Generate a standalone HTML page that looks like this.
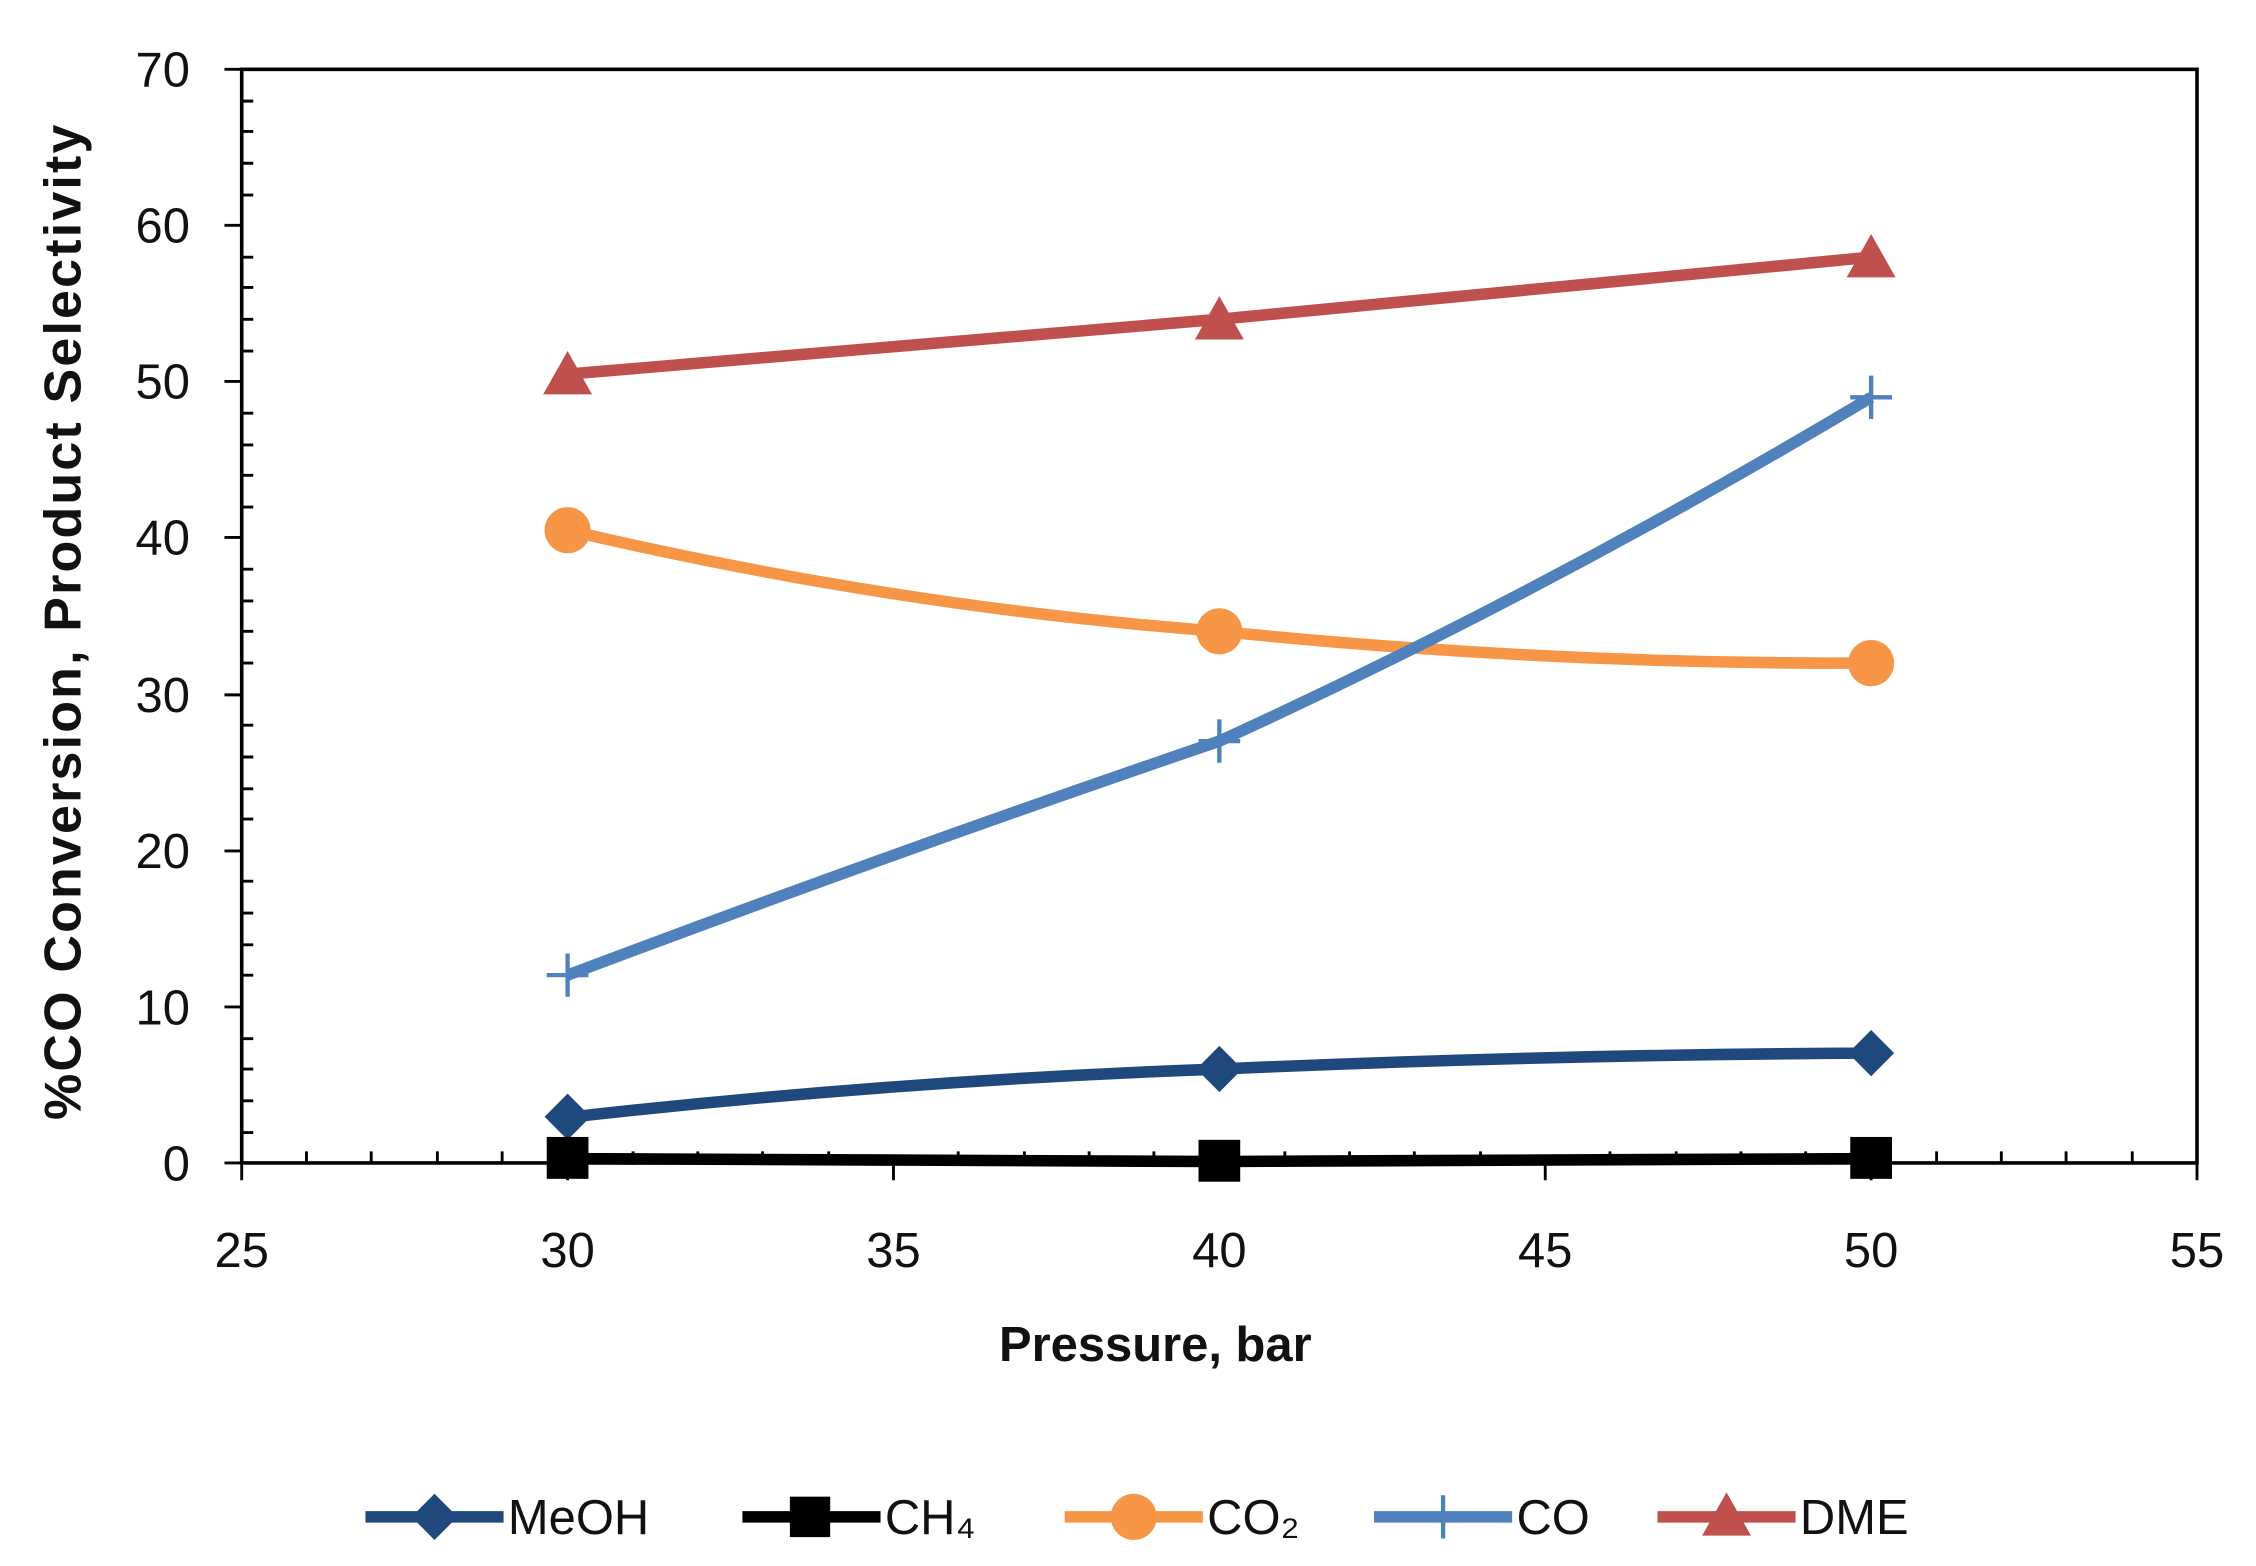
<!DOCTYPE html>
<html><head><style>html,body{margin:0;padding:0;background:#fff}svg{display:block}</style></head>
<body>
<svg width="2256" height="1566" viewBox="0 0 1568 1084" preserveAspectRatio="none" xmlns="http://www.w3.org/2000/svg" font-family="Liberation Sans, sans-serif">
<rect x="0" y="0" width="1568" height="1084" fill="#fff"/>
<rect x="168" y="48" width="1359" height="757" fill="none" stroke="#000" stroke-width="2.5"/>
<g stroke="#000" stroke-width="2">
<path d="M156 48H168M156 156H168M156 264H168M156 372H168M156 481H168M156 589H168M156 697H168M156 805H168"/>
<path d="M168 70H176M168 91H176M168 113H176M168 135H176M168 178H176M168 199H176M168 221H176M168 243H176M168 286H176M168 308H176M168 329H176M168 351H176M168 394H176M168 416H176M168 437H176M168 459H176M168 502H176M168 524H176M168 546H176M168 567H176M168 610H176M168 632H176M168 654H176M168 675H176M168 719H176M168 740H176M168 762H176M168 784H176"/>
<path d="M168 805V817M394.5 805V817M621 805V817M847.5 805V817M1074 805V817M1300.5 805V817M1527 805V817"/>
<path d="M213 797V805M258 797V805M304 797V805M349 797V805M440 797V805M485 797V805M530 797V805M576 797V805M666 797V805M712 797V805M757 797V805M802 797V805M893 797V805M938 797V805M983 797V805M1029 797V805M1119 797V805M1165 797V805M1210 797V805M1255 797V805M1346 797V805M1391 797V805M1436 797V805M1482 797V805"/>
</g>
<g font-size="34" fill="#111" text-anchor="end">
<text x="132" y="60">70</text><text x="132" y="168">60</text><text x="132" y="276">50</text><text x="132" y="384">40</text><text x="132" y="493">30</text><text x="132" y="601">20</text><text x="132" y="709">10</text><text x="132" y="817">0</text>
</g>
<g font-size="34" fill="#111" text-anchor="middle">
<text x="168" y="877">25</text><text x="394.5" y="877">30</text><text x="621" y="877">35</text><text x="847.5" y="877">40</text><text x="1074" y="877">45</text><text x="1300.5" y="877">50</text><text x="1527" y="877">55</text>
</g>
<text x="803" y="942" font-size="34" font-weight="bold" text-anchor="middle" fill="#111">Pressure, bar</text>
<text transform="translate(56,430) rotate(-90)" font-size="36" font-weight="bold" text-anchor="middle" fill="#111" letter-spacing="1.5">%CO Conversion, Product  Selectivity</text>
<path d="M394.5 773.5Q621 748 847.5 740Q1074 730 1300.5 729" fill="none" stroke="#1f497d" stroke-width="8"/>
<path d="M394.5 802L847.5 804L1300.5 802" fill="none" stroke="#000" stroke-width="8"/>
<path d="M394.5 367Q621 420 847.5 437Q1074 460 1300.5 459" fill="none" stroke="#f79646" stroke-width="8"/>
<path d="M394.5 675Q621 590 847.5 513Q1074 410 1300.5 275" fill="none" stroke="#4f81bd" stroke-width="8"/>
<path d="M394.5 259L847.5 221L1300.5 178" fill="none" stroke="#c0504d" stroke-width="8"/>
<g fill="#1f497d"><path d="M394.5 757l16 16-16 16-16-16z"/><path d="M847.5 724l16 16-16 16-16-16z"/><path d="M1300.5 713l16 16-16 16-16-16z"/></g>
<g fill="#000"><rect x="380" y="787" width="29" height="29"/><rect x="833" y="789" width="29" height="29"/><rect x="1286" y="787" width="29" height="29"/></g>
<g fill="#f79646"><circle cx="394.5" cy="367" r="16"/><circle cx="847.5" cy="437" r="16"/><circle cx="1300.5" cy="459" r="16"/></g>
<g stroke="#4f81bd" stroke-width="3"><path d="M394.5 660V690M380 675H409M847.5 498V528M833 513H862M1300.5 260V290M1286 275H1315"/></g>
<g fill="#c0504d"><path d="M394.5 243l17 30h-34z"/><path d="M847.5 205l17 30h-34z"/><path d="M1300.5 162l17 30h-34z"/></g>
<g font-size="34" fill="#111">
<path d="M254 1050H350" stroke="#1f497d" stroke-width="8"/><path d="M302 1034l16 16-16 16-16-16z" fill="#1f497d"/><text x="353" y="1062">MeOH</text>
<path d="M516 1050H612" stroke="#000" stroke-width="8"/><rect x="549" y="1036" width="28" height="28" fill="#000"/><text x="615" y="1062">CH₄</text>
<path d="M740 1050H836" stroke="#f79646" stroke-width="8"/><circle cx="788" cy="1050" r="16" fill="#f79646"/><text x="839" y="1062">CO₂</text>
<path d="M955 1050H1051" stroke="#4f81bd" stroke-width="8"/><path d="M1003 1035V1065M988 1050H1018" stroke="#4f81bd" stroke-width="3"/><text x="1054" y="1062">CO</text>
<path d="M1152 1050H1248" stroke="#c0504d" stroke-width="8"/><path d="M1200 1033l17 30h-34z" fill="#c0504d"/><text x="1251" y="1062">DME</text>
</g>
</svg>
</body></html>
